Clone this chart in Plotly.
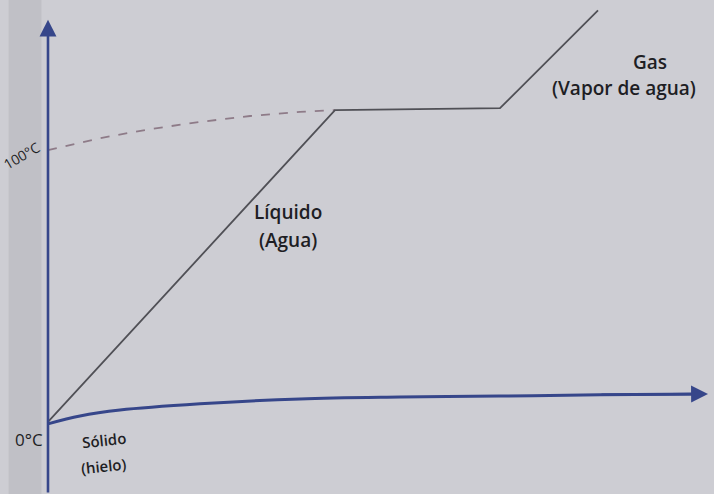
import plotly.graph_objects as go

# Curva de calentamiento del agua (calor aportado vs temperatura)
calor_curva = [0, 287, 452, 550]
temp_curva = [0, 100, 100.6, 132]

# Línea discontinua hacia la meseta de ebullición
calor_guia = [0, 52, 102, 152, 202, 252, 287]
temp_guia = [87.2, 91.0, 93.9, 96.2, 98.1, 99.4, 100]

# Eje horizontal (curvo en la foto)
calor_eje = [0, 32, 72, 152, 252, 352, 452, 552, 655]
temp_eje = [-0.6, 1.9, 3.8, 5.8, 7.4, 8.0, 8.3, 8.7, 9.0]

etiquetas_temp = ["0°C", "100°C"]
fases = ["Sólido", "(hielo)", "Líquido", "(Agua)", "Gas", "(Vapor de agua)"]

AZUL = "#36468a"
GRIS = "#505056"
TEXTO = "#1e1e24"
FUENTE = "Open Sans, sans-serif"

fig = go.Figure()

# fondo (página fotografiada)
fig.add_shape(type="rect", xref="paper", yref="paper", x0=0, x1=1, y0=0, y1=1,
              fillcolor="#cdcdd3", line_width=0, layer="below")
fig.add_shape(type="rect", xref="paper", yref="paper", x0=0.012, x1=0.058, y0=0, y1=1,
              fillcolor="#c0c0c6", line_width=0, layer="below")

fig.add_trace(go.Scatter(x=calor_guia, y=temp_guia, mode="lines",
                         line=dict(color="#8e7b88", width=1.8, dash="dash"),
                         hoverinfo="skip"))
fig.add_trace(go.Scatter(x=calor_curva, y=temp_curva, mode="lines",
                         line=dict(color=GRIS, width=1.8), hoverinfo="skip"))
fig.add_trace(go.Scatter(x=calor_eje, y=temp_eje, mode="lines",
                         line=dict(color=AZUL, width=3, shape="spline"),
                         hoverinfo="skip"))

# eje vertical con flecha
fig.add_annotation(x=0, y=129, ax=0, ay=-23.1, xref="x", yref="y", axref="x", ayref="y",
                   showarrow=True, arrowhead=2, arrowsize=1.3, arrowwidth=2.6,
                   arrowcolor=AZUL, text="")
# punta de flecha del eje horizontal
fig.add_annotation(x=660, y=9.0, ax=calor_eje[-2], ay=temp_eje[-2], xref="x", yref="y",
                   axref="x", ayref="y", showarrow=True, arrowhead=2, arrowsize=1.3,
                   arrowwidth=2.6, arrowcolor=AZUL, text="")

fuente = dict(family=FUENTE, size=19, color=TEXTO, weight=600)
fuente_s = dict(family=FUENTE, size=15, color=TEXTO, weight=600)

fig.add_annotation(x=-3, y=-5.5, text=etiquetas_temp[0], showarrow=False,
                   xanchor="right", font=dict(family=FUENTE, size=17, color=TEXTO))
fig.add_annotation(x=-2, y=85.5, text=etiquetas_temp[1], showarrow=False, textangle=-30,
                   xanchor="right", font=dict(family=FUENTE, size=14, color=TEXTO))

fig.add_annotation(x=56, y=-5.8, text=fases[0], showarrow=False, textangle=-6, font=fuente_s)
fig.add_annotation(x=55, y=-14.1, text=fases[1], showarrow=False, textangle=-6, font=fuente_s)
fig.add_annotation(x=240, y=67.3, text=fases[2], showarrow=False, font=fuente)
fig.add_annotation(x=240, y=58.3, text=fases[3], showarrow=False, font=fuente)
fig.add_annotation(x=602, y=115.4, text=fases[4], showarrow=False, font=fuente)
fig.add_annotation(x=576, y=107.1, text=fases[5], showarrow=False, font=fuente)

fig.update_xaxes(range=[-48, 666], visible=False)
fig.update_yaxes(range=[-23.1, 135.3], visible=False)
fig.update_layout(width=714, height=494, margin=dict(l=0, r=0, t=0, b=0),
                  showlegend=False, plot_bgcolor="rgba(0,0,0,0)",
                  paper_bgcolor="#cdcdd3")

fig.write_html("out.html", config={"displayModeBar": False},
               post_script="document.body.style.margin='0';document.body.style.background='#cdcdd3';")
